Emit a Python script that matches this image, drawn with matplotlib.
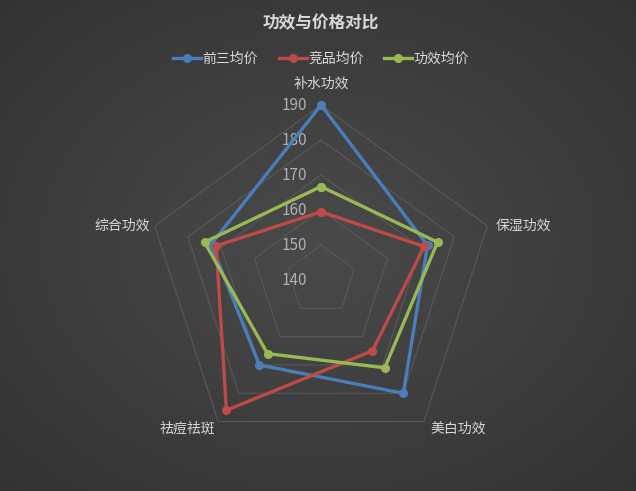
import numpy as np
import matplotlib
matplotlib.use("Agg")
import matplotlib.pyplot as plt
from matplotlib.colors import LinearSegmentedColormap

plt.rcParams['font.family'] = ['Noto Sans CJK SC', 'DejaVu Sans']

categories = ['补水功效', '保湿功效', '美白功效', '祛痘祛斑', '综合功效']
series_names = ['前三均价', '竞品均价', '功效均价']
top3_avg = [190, 172, 180, 170, 173]
rival_avg = [159.5, 171, 165, 186, 171.5]
effect_avg = [166.7, 175, 171, 166, 175]
r_ticks = [140, 150, 160, 170, 180, 190]

colors = ['#4A7EBB', '#BE4B48', '#98B954']

fig = plt.figure(figsize=(6.36, 4.91), dpi=100)

# radial gradient background
bg = fig.add_axes([0, 0, 1, 1])
yy, xx = np.mgrid[-1:1:300j, -1:1:400j]
dist = np.sqrt(xx ** 2 + yy ** 2) / np.sqrt(2)
cmap = LinearSegmentedColormap.from_list('bg', ['#4a4a4a', '#333333'])
bg.imshow(dist, cmap=cmap, aspect='auto', extent=[0, 1, 0, 1], vmin=0, vmax=1)
bg.axis('off')

ax = fig.add_axes([0.2296, 0.0733, 0.5503, 0.7128], projection='polar')
ax.set_facecolor('none')
ax.set_theta_offset(np.pi / 2)
ax.set_theta_direction(-1)
ax.set_ylim(r_ticks[0], r_ticks[-1])
ax.grid(False)
ax.spines['polar'].set_visible(False)
ax.set_xticks([])
ax.set_yticks([])

n = len(categories)
angles = np.linspace(0, 2 * np.pi, n, endpoint=False)
closed = np.concatenate([angles, angles[:1]])

# pentagon grid rings
for v in r_ticks[1:]:
    ax.plot(closed, [v] * (n + 1), color='#595959', lw=0.8, zorder=1)

# radial value labels
for v in r_ticks:
    ax.annotate(str(v), xy=(0, v), xytext=(-10, 0), textcoords='offset points',
                ha='right', va='center', color='#b0b0b0', fontsize=11)

# category labels
label_cfg = [
    ((0, 10), 'center', 'bottom'),
    ((6, 0), 'left', 'center'),
    ((5, -5), 'left', 'center'),
    ((-2, -5), 'right', 'center'),
    ((-3, 0), 'right', 'center'),
]
for ang, cat, (off, ha, va) in zip(angles, categories, label_cfg):
    ax.annotate(cat, xy=(ang, r_ticks[-1]), xytext=off, textcoords='offset points',
                ha=ha, va=va, color='#d9d9d9', fontsize=10)

for name, vals, c in zip(series_names, [top3_avg, rival_avg, effect_avg], colors):
    v = list(vals) + [vals[0]]
    ax.plot(closed, v, color=c, lw=2.4, marker='o', markersize=5.5,
            markeredgecolor=c, label=name, zorder=3, clip_on=False)

fig.text(0.505, 0.953, '功效与价格对比', ha='center', va='center',
         color='#d9d9d9', fontsize=12, fontweight='bold')

leg = fig.legend(loc='center', bbox_to_anchor=(0.505, 0.881), ncol=3, frameon=False,
                 fontsize=10, handlelength=2.0, handletextpad=0.1, columnspacing=1.5,
                 labelcolor='#d9d9d9')

fig.savefig('out.png', dpi=100, facecolor='#404040')
